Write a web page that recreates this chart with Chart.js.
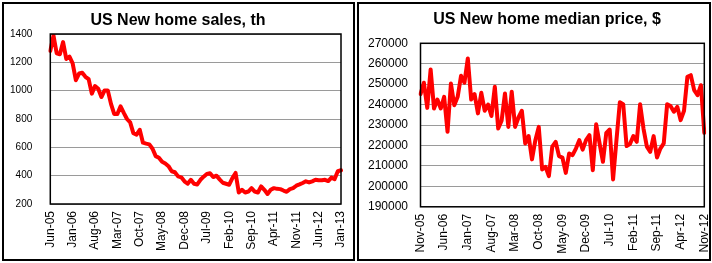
<!DOCTYPE html>
<html>
<head>
<meta charset="utf-8">
<script src="https://cdn.jsdelivr.net/npm/chart.js@4"></script>
<style>
    html, body { margin: 0; padding: 0; background: #fff; }
    body { width: 712px; height: 263px; position: relative; overflow: hidden; }
    .box { position: absolute; box-sizing: border-box; border: 2px solid #000; }
    canvas { position: absolute; }
</style>
</head>
<body>
<div class="box" style="left:2px; top:2px; width:353px; height:259px;"></div>
<div class="box" style="left:357px; top:2px; width:354px; height:259px;"></div>
<canvas id="chartVendas" width="348" height="255" style="left:4px; top:4px;"></canvas>
<canvas id="chartPreco" width="376" height="255" style="left:359px; top:4px;"></canvas>
<script>
// ==================================================
// DATA
// ==================================================

// US new home sales, thousands, Jun-05 .. Jan-13 (monthly)
const salesValues = [
    1281, 1389, 1264, 1257, 1343, 1224, 1240, 1193, 1074, 1121, 1126, 1098,
    1081, 979, 1033, 1014, 955, 1002, 1002, 907, 836, 836, 890, 843,
    800, 776, 700, 690, 724, 633, 626, 621, 590, 538, 526, 498,
    486, 467, 431, 424, 395, 388, 360, 343, 371, 343,
    338, 371, 393, 412, 417, 390, 400, 374, 350, 343, 336, 383,
    419, 281, 300, 281, 288, 312, 288, 281, 324, 300, 271, 300,
    312, 307, 305, 295, 286, 305, 312, 329, 338, 348, 360, 352,
    360, 371, 367, 367, 371, 362, 386, 376, 431, 438
];

// US new home median price, $, Nov-05 .. Nov-12 (monthly)
const priceValues = [
    245100, 250700, 238400, 257200, 238100, 242500, 238100, 243800, 226700, 250300,
    239700, 243800, 254100, 250700, 262600, 242500, 245100, 235700, 245800, 237000,
    240000, 234400, 248700, 228300, 232100, 245400, 229100, 246300, 229100, 233700,
    237000, 221000, 224600, 213200, 222600, 229100, 208300, 209600, 205000, 219400,
    221800, 214800, 214100, 206600, 216100, 215300, 218500, 222600, 218000, 222600,
    225100, 207900, 230400, 221000, 212000, 226200, 227800, 203400, 222600, 241100,
    240200, 219700, 220700, 224600, 221800, 240200, 228300, 219400, 216900, 224600,
    214100, 218500, 221000, 240200, 239300, 236500, 238900, 232400, 237000, 253600,
    254400, 247100, 244600, 249500, 226200
];

// Categories: one per month
const salesMonths = monthLabels(2005, 6, salesValues.length);
const priceMonths = monthLabels(2005, 11, priceValues.length);

// Axis labels that are actually shown (every 7 months)
const salesTickLabels = ['Jun-05', 'Jan-06', 'Aug-06', 'Mar-07', 'Oct-07', 'May-08', 'Dec-08',
    'Jul-09', 'Feb-10', 'Sep-10', 'Apr-11', 'Nov-11', 'Jun-12', 'Jan-13'];
const priceTickLabels = ['Nov-05', 'Jun-06', 'Jan-07', 'Aug-07', 'Mar-08', 'Oct-08', 'May-09',
    'Dec-09', 'Jul-10', 'Feb-11', 'Sep-11', 'Apr-12', 'Nov-12'];

const salesYTicks = [200, 400, 600, 800, 1000, 1200, 1400];
const priceYTicks = [190000, 200000, 210000, 220000, 230000, 240000, 250000, 260000, 270000];

/**
 * Builds "Mon-YY" labels starting at a given month
 */
function monthLabels(year, month, count) {
    const nomes = ['Jan', 'Feb', 'Mar', 'Apr', 'May', 'Jun', 'Jul', 'Aug', 'Sep', 'Oct', 'Nov', 'Dec'];
    const out = [];
    for (let i = 0; i < count; i++) {
        const m = (month - 1 + i) % 12;
        const y = year + Math.floor((month - 1 + i) / 12);
        out.push(`${nomes[m]}-${String(y % 100).padStart(2, '0')}`);
    }
    return out;
}

// Draws the black frame around the plot area (Excel style)
const plotFrame = {
    id: 'plotFrame',
    afterDraw(chart) {
        const { ctx, chartArea: a } = chart;
        ctx.save();
        ctx.strokeStyle = '#000';
        ctx.lineWidth = 1.5;
        ctx.strokeRect(a.left, a.top, a.right - a.left, a.bottom - a.top);
        ctx.restore();
    }
};

/**
 * Renders one Excel-like line chart
 */
function renderizarGrafico(canvasId, cfg) {
    const ctx = document.getElementById(canvasId).getContext('2d');

    return new Chart(ctx, {
        type: 'line',
        data: {
            labels: cfg.labels,
            datasets: [{
                data: cfg.values,
                borderColor: '#ff0000',
                borderWidth: 4,
                borderJoinStyle: 'round',
                borderCapStyle: 'round',
                pointRadius: 0,
                tension: 0,
                fill: false
            }]
        },
        options: {
            responsive: false,
            animation: false,
            devicePixelRatio: 1,
            layout: { padding: 0 },
            plugins: {
                legend: { display: false },
                tooltip: { enabled: false },
                title: {
                    display: true,
                    text: cfg.title,
                    color: '#000',
                    font: { family: 'Liberation Sans', size: 16, weight: 'bold' },
                    padding: cfg.titlePadding
                }
            },
            scales: {
                x: {
                    offset: false,
                    grid: { display: false, drawTicks: false },
                    border: { display: false },
                    afterFit: s => {
                        s.height = cfg.xHeight;
                        s.paddingLeft = 0;
                        s.paddingRight = 0;
                    },
                    ticks: {
                        autoSkip: false,
                        maxRotation: 90,
                        minRotation: 90,
                        padding: 7,
                        color: '#000',
                        font: { family: 'Liberation Sans', size: 12 },
                        callback: function(value, index) {
                            const lbl = this.getLabelForValue(value);
                            return cfg.tickLabels.includes(lbl) ? lbl : '';
                        }
                    }
                },
                y: {
                    min: cfg.yTicks[0],
                    max: cfg.yTicks[cfg.yTicks.length - 1],
                    afterBuildTicks: s => {
                        s.ticks = cfg.yTicks.map(v => ({ value: v }));
                    },
                    afterFit: s => { s.width = cfg.yWidth; },
                    grid: { color: '#9a9a9a', lineWidth: 1, drawTicks: false },
                    border: { display: false },
                    ticks: {
                        padding: cfg.yPad,
                        color: '#000',
                        font: { family: 'Liberation Sans', size: cfg.yFontSize },
                        callback: v => String(v)
                    }
                },
                // empty spacer on the right so the title sits where the original has it
                espaco: {
                    type: 'linear',
                    position: 'right',
                    grid: { display: false, drawTicks: false },
                    border: { display: false },
                    ticks: { display: false },
                    afterFit: s => { s.width = cfg.spacer; }
                }
            }
        },
        plugins: [plotFrame]
    });
}

renderizarGrafico('chartVendas', {
    title: 'US New home sales, th',
    labels: salesMonths,
    values: salesValues,
    tickLabels: salesTickLabels,
    yTicks: salesYTicks,
    titlePadding: { top: 7.4, bottom: 3.4 },
    yWidth: 46.3,
    yPad: 18,
    yFontSize: 10,
    spacer: 11,
    xHeight: 55
});

renderizarGrafico('chartPreco', {
    title: 'US New home median price, $',
    labels: priceMonths,
    values: priceValues,
    tickLabels: priceTickLabels,
    yTicks: priceYTicks,
    titlePadding: { top: 6.4, bottom: 13.7 },
    yWidth: 61.5,
    yPad: 12.5,
    yFontSize: 12,
    spacer: 30.7,
    xHeight: 52.2
});
</script>
</body>
</html>
